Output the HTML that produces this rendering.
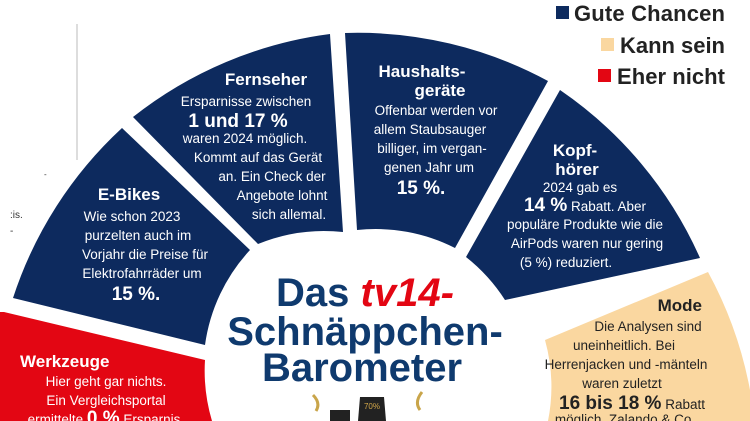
<!DOCTYPE html>
<html><head><meta charset="utf-8"><style>
html,body{margin:0;padding:0;background:#fff;width:750px;height:421px;overflow:hidden}
svg{display:block}
.w{fill:#fff;font-family:"Liberation Sans",sans-serif;font-size:13.5px;text-anchor:middle}
.h{font-weight:bold;font-size:17px}
.b{font-weight:bold;font-size:19px}
.t{font-family:"Liberation Sans",sans-serif;font-weight:bold;text-anchor:middle;fill:#0f3a6e;font-size:40px}
.l{font-family:"Liberation Sans",sans-serif;font-weight:bold;font-size:22px;fill:#222}
</style></head><body>
<svg width="750" height="421" viewBox="0 0 750 421">
<line x1="77" y1="24" x2="77" y2="160" stroke="#bbb" stroke-width="1"/>
<text x="10" y="218" font-family="Liberation Sans" font-size="10" fill="#333">:is.</text>
<text x="10" y="234" font-family="Liberation Sans" font-size="10" fill="#333">-</text>
<text x="44" y="177" font-family="Liberation Sans" font-size="8" fill="#333">-</text>
<path d="M122,128 L250,250 A175,175 0 0 0 205,345 L13,298 A400,400 0 0 1 122,128 Z" fill="#0d2a5e"/>
<path d="M133,117 L258,244 A175,175 0 0 1 343,232 L330,34 A400,400 0 0 0 133,117 Z" fill="#0d2a5e"/>
<path d="M345,33 L357,230 A175,175 0 0 1 455,248 L548,81 A400,400 0 0 0 345,33 Z" fill="#0d2a5e"/>
<path d="M560,90 L466,257 A175,175 0 0 1 505,300 L700,258 A400,400 0 0 0 560,90 Z" fill="#0d2a5e"/>
<path d="M708,272 L545,340 A175,175 0 0 1 548,421 L750,421 L750,390 A400,400 0 0 0 708,272 Z" fill="#fad7a0"/>
<path d="M4,312 L205,360 A175,175 0 0 0 212,421 L0,421 L0,312 Z" fill="#e30613"/>
<rect x="556" y="6" width="13" height="13" fill="#0d2a5e"/>
<text class="l" x="574" y="21" textLength="151">Gute Chancen</text>
<rect x="601" y="38" width="13" height="13" fill="#fad7a0"/>
<text class="l" x="620" y="53" textLength="105">Kann sein</text>
<rect x="598" y="69" width="13" height="13" fill="#e30613"/>
<text class="l" x="617" y="84" textLength="108">Eher nicht</text>
<text class="w h" x="266" y="85">Fernseher</text>
<text class="w" x="246" y="106">Ersparnisse zwischen</text>
<text class="w b" x="238" y="127">1 und 17 %</text>
<text class="w" x="245" y="143">waren 2024 möglich.</text>
<text class="w" x="258" y="162">Kommt auf das Gerät</text>
<text class="w" x="272" y="181">an. Ein Check der</text>
<text class="w" x="282" y="200">Angebote lohnt</text>
<text class="w" x="289" y="219">sich allemal.</text>
<text class="w h" x="129" y="200">E-Bikes</text>
<text class="w" x="132" y="221">Wie schon 2023</text>
<text class="w" x="138" y="240">purzelten auch im</text>
<text class="w" x="145" y="259">Vorjahr die Preise für</text>
<text class="w" x="142" y="278">Elektrofahrräder um</text>
<text class="w b" x="136" y="300">15 %.</text>
<text class="w h" x="422" y="77">Haushalts-</text>
<text class="w h" x="440" y="96">geräte</text>
<text class="w" x="436" y="115">Offenbar werden vor</text>
<text class="w" x="430" y="134">allem Staubsauger</text>
<text class="w" x="432" y="153">billiger, im vergan-</text>
<text class="w" x="429" y="172">genen Jahr um</text>
<text class="w b" x="421" y="194">15 %.</text>
<text class="w h" x="575" y="156">Kopf-</text>
<text class="w h" x="577" y="175">hörer</text>
<text class="w" x="580" y="192">2024 gab es</text>
<text class="w" x="585" y="211"><tspan font-weight="bold" font-size="19">14 %</tspan> Rabatt. Aber</text>
<text class="w" x="585" y="229">populäre Produkte wie die</text>
<text class="w" x="587" y="248">AirPods waren nur gering</text>
<text class="w" x="566" y="267">(5 %) reduziert.</text>
<text x="702" y="311" font-family="Liberation Sans" font-weight="bold" font-size="17" text-anchor="end" fill="#222">Mode</text>
<text x="648" y="331" font-family="Liberation Sans" font-size="13.5" text-anchor="middle" fill="#222">Die Analysen sind</text>
<text x="624" y="350" font-family="Liberation Sans" font-size="13.5" text-anchor="middle" fill="#222">uneinheitlich. Bei</text>
<text x="626" y="369" font-family="Liberation Sans" font-size="13.5" text-anchor="middle" fill="#222">Herrenjacken und -mänteln</text>
<text x="622" y="388" font-family="Liberation Sans" font-size="13.5" text-anchor="middle" fill="#222">waren zuletzt</text>
<text x="632" y="409" font-family="Liberation Sans" font-size="13.5" text-anchor="middle" fill="#222"><tspan font-weight="bold" font-size="19">16 bis 18 %</tspan> Rabatt</text>
<text x="625" y="424" font-family="Liberation Sans" font-size="13.5" text-anchor="middle" fill="#222">möglich. Zalando &amp; Co.</text>
<text x="20" y="367" font-family="Liberation Sans" font-weight="bold" font-size="17" fill="#fff">Werkzeuge</text>
<text class="w" x="106" y="386">Hier geht gar nichts.</text>
<text class="w" x="106" y="405">Ein Vergleichsportal</text>
<text class="w" x="104" y="424">ermittelte <tspan font-weight="bold" font-size="19">0 %</tspan> Ersparnis</text>
<text class="t" x="365" y="306">Das <tspan fill="#e30613" font-style="italic">tv14-</tspan></text>
<text class="t" x="365" y="345">Schnäppchen-</text>
<text class="t" x="362" y="381">Barometer</text>
<path d="M360,397 L384,397 L386,421 L358,421 Z" fill="#222"/>
<text x="372" y="409" font-family="Liberation Sans" font-size="8" fill="#d4a84a" text-anchor="middle">70%</text>
<path d="M330,410 L350,410 L350,421 L330,421 Z" fill="#222"/>
<path d="M313,395 q8,8 3,16 M422,392 q-8,10 -2,18" stroke="#c9a54a" stroke-width="3" fill="none"/>
</svg>
</body></html>
